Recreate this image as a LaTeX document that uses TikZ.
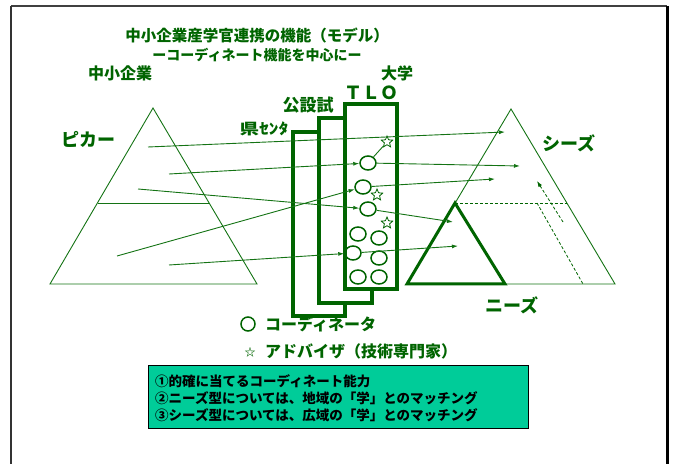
\documentclass[tikz,border=0pt]{standalone}
\usepackage{fontspec}
\newfontfamily\jp{Noto Sans CJK JP Black}
\usetikzlibrary{arrows.meta,shapes.geometric}
\definecolor{dg}{RGB}{0,100,0}
\definecolor{lg}{RGB}{20,115,20}
\definecolor{boxfill}{RGB}{0,204,153}
\begin{document}
\begin{tikzpicture}[x=1bp,y=-1bp,
  lbl/.style={font=\jp\fontsize{#1bp}{#1bp}\selectfont, text=dg, inner sep=0pt},
  blk/.style={font=\jp\fontsize{#1bp}{#1bp}\selectfont, text=black, inner sep=0pt, anchor=west},
  orgbox/.style={draw=dg, fill=white, line width=3.2bp},
  coord/.style={ellipse, draw=dg, line width=1.5bp, minimum width=16bp, minimum height=14bp, inner sep=0pt},
  adv/.style={star, star points=5, star point ratio=2.2, draw=dg, line width=0.8bp, minimum size=12bp, inner sep=0pt},
  thin/.style={draw=lg, line width=0.9bp},
  link/.style={draw=lg, line width=0.9bp, -{Latex[length=6bp,width=4bp]}},
  dsh/.style={draw=dg, line width=0.8bp, densely dashed},
]
\useasboundingbox (0,0) rectangle (673,464);
% outer frame
\draw[black!75, line width=1.2bp] (11,6) -- (667,6);
\draw[black!80, line width=2.5bp] (11,6) -- (11,470);
\draw[black, line width=3bp] (667,6) -- (667,470);

% titles
\node[lbl=15.5] (t1) at (257,35) {中小企業産学官連携の機能（モデル）};
\node[lbl=14] (t2) at (257,55) {ーコーディネート機能を中心にー};
\node[lbl=16] (sme) at (120,73) {中小企業};
\node[lbl=16] (univ) at (397,73) {大学};

% left triangle
\draw[thin] (153,108) -- (50,284) -- (257,284) -- cycle;
\draw[thin] (98,203) -- (209,203);
\node[lbl=18] (pika) at (88,139) {ピカー};

% right triangles
\draw[thin] (511,109) -- (407,284) -- (615,284) -- cycle;
\draw[dg, line width=3bp, line join=miter] (455,203) -- (407,284) -- (505,284) -- cycle;
\draw[dsh] (455,203) -- (567,203);
\draw[dsh] (537,203) -- (583,284);
\coordinate (da) at (563,222);
\coordinate (db) at (537,181);
\draw[dsh, -{Latex[length=6bp,width=4bp]}] (da) -- (db);
\node[lbl=18] (seeds) at (569,143) {シーズ};
\node[lbl=18] (needs) at (512,305) {ニーズ};

% organisation boxes
\draw[orgbox] (293,132) rectangle (345,316);
\draw[orgbox] (319,118) rectangle (372,303);
\draw[orgbox] (345,104) rectangle (397,289);
\node[lbl=18] (tlo) at (371,93) {ＴＬＯ};
\node[lbl=17] (kosetsu) at (308,105) {公設試};
\node[lbl=15] (ken) at (264,129) {\scalebox{1.3}[1]{県ｾﾝﾀ}};

% coordinators
\node[coord] (c1) at (368,163) {};
\node[coord] (c2) at (363,187) {};
\node[coord] (c3) at (368,209) {};
\node[coord] (c4) at (358,234) {};
\node[coord] (c5) at (379,238) {};
\node[coord] (c6) at (353,253) {};
\node[coord] (c7) at (379,258) {};
\node[coord] (c8) at (358,277) {};
\node[coord] (c9) at (379,277) {};
% advisors
\node[adv] (s1) at (387,142) {};
\node[adv] (s2) at (377,195) {};
\node[adv] (s3) at (387,223) {};
\draw[thin] (c1) -- (s1);

% start points in SME pyramid
\coordinate (p1) at (148,147);
\coordinate (p2) at (169,174);
\coordinate (p3) at (138,189);
\coordinate (p4) at (117,256);
\coordinate (p5) at (169,265);
% end points in university pyramid
\coordinate (q1) at (505,132);
\coordinate (q2) at (520,166);
\coordinate (q3) at (453,222);
\coordinate (q4) at (495,179);
\coordinate (q5) at (458,246);

\draw[link] (p1) -- (q1);
\draw[link] (p2) -- (c1);
\draw[link] (c1) -- (q2);
\draw[link] (p3) -- (c3);
\draw[link] (c3) -- (q3);
\draw[link] (p4) -- (c2);
\draw[link] (c2) -- (q4);
\draw[link] (p5) -- (c6);
\draw[link] (c6) -- (q5);

% legend
\node[coord, minimum width=14bp, minimum height=14bp] (lc) at (248,324) {};
\node[lbl=16, anchor=west] (lct) at (265,324) {コーディネータ};
\node[lbl=11] (ls) at (250,352) {☆};
\node[lbl=16, anchor=west] (lst) at (265,351) {アドバイザ（技術専門家）};

% summary box
\draw[fill=boxfill, draw=black, line width=1bp] (148,365) rectangle (528,428);
\node[blk=13.5] (b1) at (155,381) {①的確に当てるコーディネート能力};
\node[blk=13.5] (b2) at (155,398) {②ニーズ型については、地域の「学」とのマッチング};
\node[blk=13.5] (b3) at (155,415) {③シーズ型については、広域の「学」とのマッチング};
\end{tikzpicture}
\end{document}
